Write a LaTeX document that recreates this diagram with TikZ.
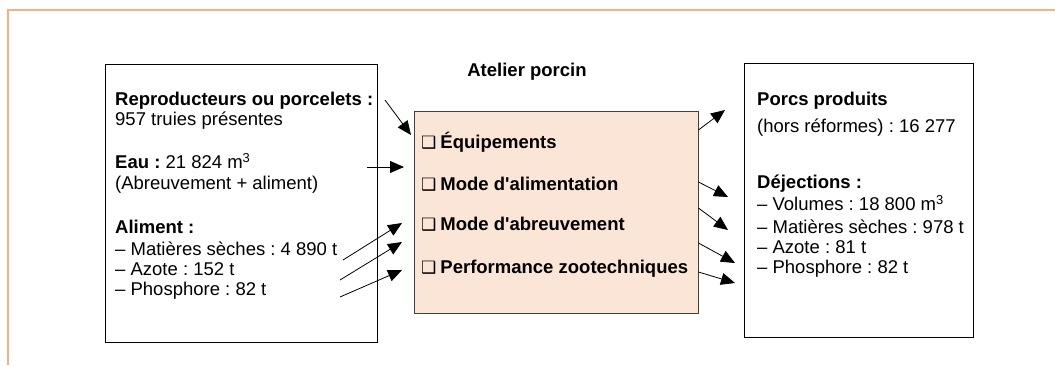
\documentclass[tikz,border=0pt]{standalone}
\usepackage{fontspec}
\setmainfont{Liberation Sans}[Ligatures=TeXOff]
\newfontfamily\symfont{DejaVu Sans}
\usetikzlibrary{arrows.meta}

\definecolor{framecol}{HTML}{F4B183}
\definecolor{ateliercol}{HTML}{FBE5D6}

\tikzset{
	txt/.style={font=\fontsize{18.5}{22}\selectfont, anchor=mid west, inner sep=0, yshift=-3pt},
	head/.style={txt, font=\fontsize{18.5}{22}\selectfont\bfseries},
	box/.style={draw, line width=0.9pt, inner sep=0},
	flow/.style={line width=0.8pt, -{Triangle[length=14pt, width=12pt]}},
}

\begin{document}
\frenchspacing
\begin{tikzpicture}[x=1pt, y=-1pt]
	\useasboundingbox (0,0) rectangle (1055,365);

	% Frame
	\draw [framecol, line width=2pt] (8,365) -- (8,10) -- (1055,10);

	% Boxes
	\node (entrees)
	      [ box
	      , minimum width=272pt
	      , minimum height=278pt
	      ]
	      at (241,203)
	      {};
	\node (atelier)
	      [ box
	      , draw=black!75
	      , fill=ateliercol
	      , minimum width=284pt
	      , minimum height=202pt
	      ]
	      at (556,212)
	      {};
	\node (sorties)
	      [ box
	      , minimum width=229pt
	      , minimum height=274pt
	      ]
	      at (858.5,200)
	      {};

	\node (titre) [head, anchor=center] at (527,69) {Atelier porcin};

	% Inputs
	\node (in1) [head] at (115,100) {Reproducteurs ou porcelets :};
	\node (in2) [txt]  at (115,120) {957 truies présentes};
	\node (in3) [txt]  at (115,163) {\textbf{Eau :} 21 824 m\textsuperscript{3}};
	\node (in4) [txt]  at (115,184) {(Abreuvement + aliment)};
	\node (in5) [head] at (115,228) {Aliment :};
	\foreach [count=\i from 6] \yy/\txt in {250/{Matières sèches : 4 890 t},270/{Azote : 152 t},290/{Phosphore : 82 t}}{
		\node (in\i) [txt] at (115,\yy) {– \txt};
	}

	% Atelier items
	\foreach [count=\i] \yy/\txt in {143/{Équipements},185/{Mode d'alimentation},225/{Mode d'abreuvement},268/{Performance zootechniques}}{
		\node (item\i) [head] at (421,\yy) {{\symfont\fontsize{17}{17}\selectfont ❑}\hspace{4pt}\txt};
	}

	% Outputs
	\node (out1) [head] at (757,100) {Porcs produits};
	\node (out2) [txt]  at (757,127) {(hors réformes) : 16 277};
	\node (out3) [head] at (757,183) {Déjections :};
	\foreach [count=\i from 4] \yy/\txt in {205/{Volumes : 18 800 m\textsuperscript{3}},228/{Matières sèches : 978 t},248/{Azote : 81 t},268/{Phosphore : 82 t}}{
		\node (out\i) [txt] at (757,\yy) {– \txt};
	}

	% Arrows in
	\foreach [count=\i] \xa/\ya/\xb/\yb in {385/100/411/135,367/167/404/167,343/260/402/223,340/280/402/242,340/297/402/270}{
		\coordinate (src\i) at (\xa,\ya);
		\coordinate (dst\i) at (\xb,\yb);
		\draw [flow] (src\i) -- (dst\i);
	}

	% Arrows out
	\foreach [count=\i] \ya/\xb/\yb in {130/725/110,182/728/197,208/728/230,243/735/263,272/735/283}{
		\coordinate (tip\i) at (\xb,\yb);
		\draw [flow] (atelier.east |- 0,\ya) -- (tip\i);
	}
\end{tikzpicture}
\end{document}
